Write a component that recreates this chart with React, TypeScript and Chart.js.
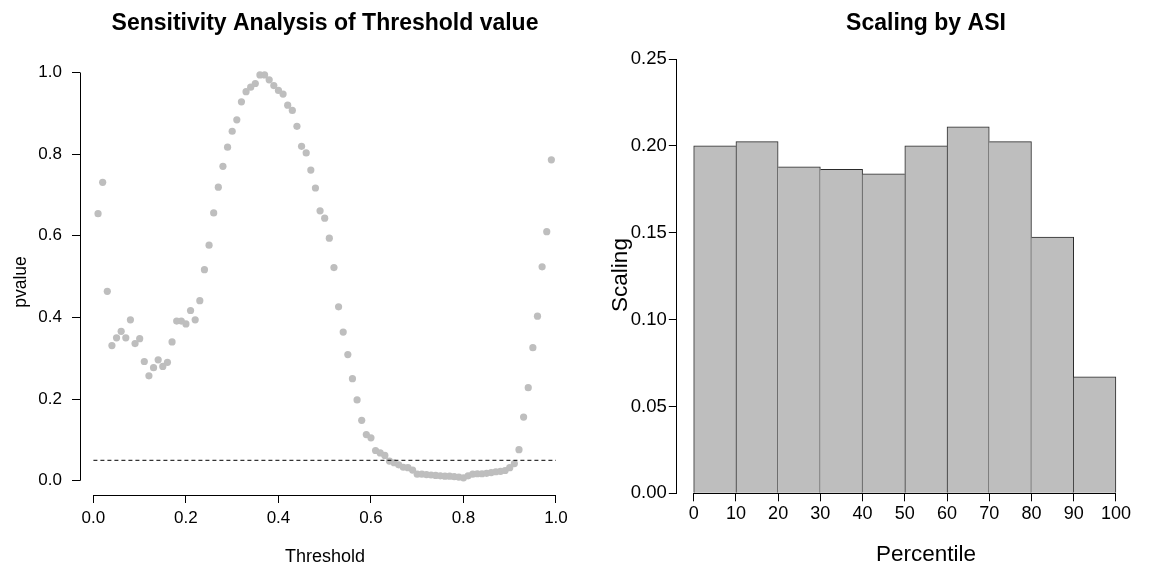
import React, { useEffect, useRef } from "react";
import { Chart, registerables } from "chart.js";
Chart.register(...registerables);

// ---------- Left panel data ----------
const thresholds = [
  0.01, 0.02, 0.03, 0.04, 0.05, 0.06, 0.07, 0.08, 0.09, 0.1,
  0.11, 0.12, 0.13, 0.14, 0.15, 0.16, 0.17, 0.18, 0.19, 0.2,
  0.21, 0.22, 0.23, 0.24, 0.25, 0.26, 0.27, 0.28, 0.29, 0.3,
  0.31, 0.32, 0.33, 0.34, 0.35, 0.36, 0.37, 0.38, 0.39, 0.4,
  0.41, 0.42, 0.43, 0.44, 0.45, 0.46, 0.47, 0.48, 0.49, 0.5,
  0.51, 0.52, 0.53, 0.54, 0.55, 0.56, 0.57, 0.58, 0.59, 0.6,
  0.61, 0.62, 0.63, 0.64, 0.65, 0.66, 0.67, 0.68, 0.69, 0.7,
  0.71, 0.72, 0.73, 0.74, 0.75, 0.76, 0.77, 0.78, 0.79, 0.8,
  0.81, 0.82, 0.83, 0.84, 0.85, 0.86, 0.87, 0.88, 0.89, 0.9,
  0.91, 0.92, 0.93, 0.94, 0.95, 0.96, 0.97, 0.98, 0.99,
];
const pvalues = [
  0.654, 0.731, 0.464, 0.331, 0.35, 0.366, 0.35, 0.394, 0.336, 0.348,
  0.292, 0.257, 0.277, 0.296, 0.28, 0.29, 0.34, 0.391, 0.391, 0.384,
  0.417, 0.394, 0.441, 0.517, 0.577, 0.656, 0.719, 0.77, 0.817, 0.856,
  0.884, 0.928, 0.953, 0.964, 0.973, 0.994, 0.994, 0.982, 0.968, 0.956,
  0.947, 0.92, 0.907, 0.868, 0.819, 0.803, 0.761, 0.717, 0.661, 0.643,
  0.594, 0.522, 0.426, 0.364, 0.309, 0.25, 0.198, 0.148, 0.113, 0.105,
  0.074, 0.068, 0.062, 0.048, 0.044, 0.039, 0.033, 0.032, 0.026, 0.016,
  0.016, 0.015, 0.014, 0.013, 0.012, 0.011, 0.011, 0.01, 0.009, 0.007,
  0.012, 0.016, 0.017, 0.017, 0.018, 0.02, 0.022, 0.023, 0.025, 0.032,
  0.042, 0.076, 0.156, 0.228, 0.326, 0.403, 0.524, 0.61, 0.786,
];
const cutoffValue = 0.05;
const cutoffRange = [0, 1];
const leftXTicks = [0, 0.2, 0.4, 0.6, 0.8, 1.0];
const leftYTicks = [0, 0.2, 0.4, 0.6, 0.8, 1.0];

// ---------- Right panel data ----------
const binMids = [5, 15, 25, 35, 45, 55, 65, 75, 85, 95];
const binValues = [0.2, 0.2025, 0.188, 0.1865, 0.184, 0.2, 0.211, 0.2025, 0.1475, 0.067];
const rightXTicks = [0, 10, 20, 30, 40, 50, 60, 70, 80, 90, 100];
const rightYTicks = [0, 0.05, 0.1, 0.15, 0.2, 0.25];

const FONT = '"Liberation Sans", Arial, Helvetica, sans-serif';
Chart.defaults.font.family = FONT;

const align = (p: number) => Math.round(p - 0.5) + 0.5;

// Titles and axis labels placed like R's plot-region-centred text
const rLabels = {
  id: "rLabels",
  afterDraw(chart: any, _args: any, opts: any) {
    const ctx = chart.ctx;
    for (const l of opts.items || []) {
      ctx.save();
      ctx.font = `${l.bold ? "bold " : ""}${l.size}px ${FONT}`;
      ctx.fillStyle = "#000";
      ctx.textAlign = "center";
      ctx.textBaseline = "middle";
      ctx.translate(l.x, l.y);
      if (l.rotate) ctx.rotate(-Math.PI / 2);
      ctx.fillText(l.text, 0, 0);
      ctx.restore();
    }
  },
};

const rAxes = {
  id: "rAxes",
  afterDraw(chart: any) {
    const { ctx, chartArea } = chart;
    const x = chart.scales.x;
    const y = chart.scales.y;
    ctx.save();
    ctx.strokeStyle = "#000";
    ctx.lineWidth = 1;
    ctx.beginPath();
    const xt = x.ticks;
    const yt = y.ticks;
    const ay = align(chartArea.bottom);
    ctx.moveTo(x.getPixelForValue(xt[0].value), ay);
    ctx.lineTo(x.getPixelForValue(xt[xt.length - 1].value), ay);
    const ax = align(chartArea.left);
    ctx.moveTo(ax, y.getPixelForValue(yt[0].value));
    ctx.lineTo(ax, y.getPixelForValue(yt[yt.length - 1].value));
    ctx.stroke();
    ctx.restore();
  },
};

function axisCommon(ticks: number[], fmt: (v: number) => string, size: number, padding: number) {
  return {
    afterBuildTicks: (s: any) => {
      s.ticks = ticks.map((v) => ({ value: v }));
    },
    ticks: {
      callback: (v: any) => fmt(Number(v)),
      font: { size, family: FONT },
      color: "#000",
      padding,
      autoSkip: false,
      maxRotation: 0,
      minRotation: 0,
    },
    grid: { drawOnChartArea: false, drawTicks: true, tickLength: 8, color: "#000", lineWidth: 1, offset: false },
    border: { display: false },
    offset: false,
    title: { display: false },
  };
}

export default function App() {
  const leftRef = useRef<HTMLCanvasElement>(null);
  const rightRef = useRef<HTMLCanvasElement>(null);

  useEffect(() => {
    const left = new Chart(leftRef.current as HTMLCanvasElement, {
      type: "scatter",
      data: {
        datasets: [
          {
            type: "line",
            data: cutoffRange.map((t) => ({ x: t, y: cutoffValue })),
            borderColor: "#000",
            borderWidth: 1,
            borderDash: [4, 3],
            pointRadius: 0,
            fill: false,
          } as any,
          {
            data: thresholds.map((t, i) => ({ x: t, y: pvalues[i] })),
            backgroundColor: "#BEBEBE",
            borderWidth: 0,
            pointRadius: 3.6,
          },
        ],
      },
      options: {
        animation: false,
        responsive: false,
        devicePixelRatio: 1,
        events: [],
        layout: { padding: { left: 0, right: 13.6, top: 59, bottom: 0 } },
        plugins: {
          legend: { display: false },
          tooltip: { enabled: false },
          rLabels: {
            items: [
              { text: "Sensitivity Analysis of Threshold value", x: 325, y: 24, size: 23, bold: true },
              { text: "Threshold", x: 325, y: 557, size: 18 },
              { text: "pvalue", x: 21, y: 282, size: 17.5, rotate: true },
            ],
          },
        } as any,
        scales: {
          x: {
            type: "linear",
            min: -0.029,
            max: 1.029,
            afterFit: (s: any) => {
              s.height = 72;
            },
            ...axisCommon(leftXTicks, (v) => v.toFixed(1), 17, 5),
          } as any,
          y: {
            type: "linear",
            min: -0.035,
            max: 1.033,
            afterFit: (s: any) => {
              s.width = 80;
            },
            ...axisCommon(leftYTicks, (v) => v.toFixed(1), 17, 10),
          } as any,
        },
      },
      plugins: [rLabels, rAxes],
    });

    const right = new Chart(rightRef.current as HTMLCanvasElement, {
      type: "bar",
      data: {
        datasets: [
          {
            data: binMids.map((m, i) => ({ x: m, y: binValues[i] })),
            backgroundColor: "#BEBEBE",
            borderColor: "#2a2a2a",
            borderSkipped: false,
            borderWidth: (c: any) => {
              const i = c.dataIndex;
              if (i === undefined) return 1;
              const v = binValues;
              const l = i === 0 || v[i] > v[i - 1] ? 1 : 0;
              const r = i === v.length - 1 || v[i] >= v[i + 1] ? 1 : 0;
              return { top: 1, left: l, right: r, bottom: 0 };
            },
            barPercentage: 1,
            categoryPercentage: 1,
          } as any,
        ],
      },
      options: {
        animation: false,
        responsive: false,
        devicePixelRatio: 1,
        events: [],
        layout: { padding: { left: 0, right: 33.2, top: 41.7, bottom: 0 } },
        plugins: {
          legend: { display: false },
          tooltip: { enabled: false },
          rLabels: {
            items: [
              { text: "Scaling by ASI", x: 343, y: 24, size: 23, bold: true },
              { text: "Percentile", x: 343, y: 555, size: 22.5 },
              { text: "Scaling", x: 38, y: 275, size: 22.5, rotate: true },
            ],
          },
        } as any,
        scales: {
          x: {
            type: "linear",
            min: -4,
            max: 104,
            afterFit: (s: any) => {
              s.height = 73.7;
            },
            ...axisCommon(rightXTicks, (v) => String(v), 18, 2),
          } as any,
          y: {
            type: "linear",
            min: 0,
            max: 0.26,
            afterFit: (s: any) => {
              s.width = 93.8;
            },
            ...axisCommon(rightYTicks, (v) => v.toFixed(2), 18.5, 2),
          } as any,
        },
      },
      plugins: [rLabels, rAxes],
    });

    return () => {
      left.destroy();
      right.destroy();
    };
  }, []);

  return (
    <div style={{ position: "fixed", left: 0, top: 0, width: 1166, height: 567, background: "#fff", overflow: "hidden" }}>
      <canvas ref={leftRef} width={583} height={567} style={{ position: "absolute", left: 0, top: 0, width: 583, height: 567 }} />
      <canvas ref={rightRef} width={583} height={567} style={{ position: "absolute", left: 583, top: 0, width: 583, height: 567 }} />
    </div>
  );
}
